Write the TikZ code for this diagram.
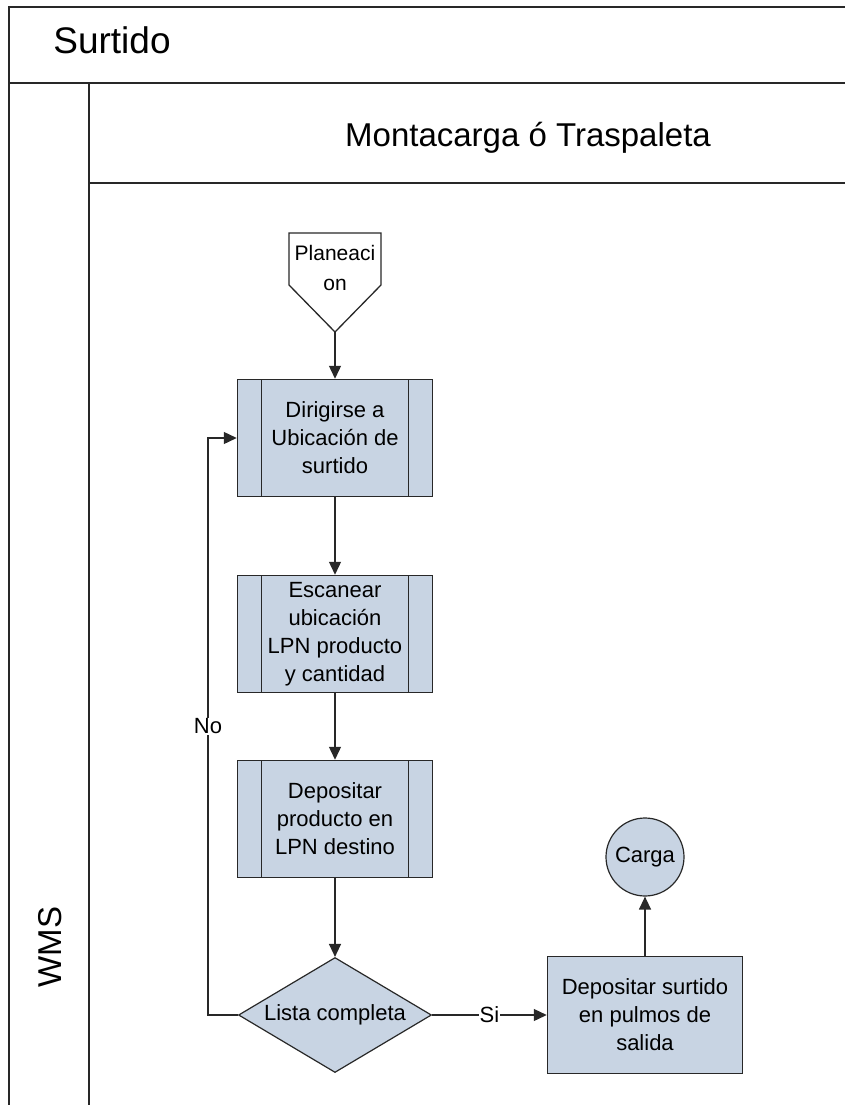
\documentclass[tikz,border=0pt]{standalone}
\usepackage{fontspec}
\setmainfont{Liberation Sans}
\usetikzlibrary{arrows.meta,shapes.geometric,positioning}
\definecolor{relleno}{RGB}{200,212,227}
\definecolor{borde}{RGB}{40,40,40}
\tikzset{
  carril/.style={line width=1.8pt,draw=borde},
  proceso/.style={draw=borde,line width=1.5pt,fill=relleno,minimum width=195pt,minimum height=117pt,inner sep=0pt,align=center,font=\fontsize{22}{28}\selectfont,
    path picture={\draw[borde,line width=1.5pt] ([xshift=24pt]path picture bounding box.north west) -- ([xshift=24pt]path picture bounding box.south west)
      ([xshift=-24pt]path picture bounding box.north east) -- ([xshift=-24pt]path picture bounding box.south east);}},
  caja/.style={draw=borde,line width=1.5pt,fill=relleno,minimum width=195pt,minimum height=117pt,align=center,font=\fontsize{22}{28}\selectfont},
  decision/.style={diamond,aspect=1.7,draw=borde,line width=1.2pt,fill=relleno,minimum width=193pt,minimum height=115pt,inner sep=0pt,font=\fontsize{22}{28}\selectfont},
  fin/.style={circle,draw=borde,line width=1.2pt,fill=relleno,minimum size=78pt,inner sep=0pt,font=\fontsize{22}{28}\selectfont},
  flecha/.style={draw=borde,line width=1.3pt,-{Triangle[length=13pt,width=12pt]}},
  etiqueta/.style={fill=white,inner sep=1pt,font=\fontsize{22}{26}\selectfont}
}

\begin{document}
\begin{tikzpicture}[x=1pt,y=-1pt]
    \useasboundingbox[fill=white] (0,0) rectangle (845,1105);

    \draw[carril] (845,7) -- (9,7) -- (9,1105);
    \draw[carril] (9,83) -- (845,83);
    \draw[carril] (89,83) -- (89,1105);
    \draw[carril] (89,183) -- (845,183);

    \node[font=\fontsize{37}{40}\selectfont] (surtido) at (112,40) {Surtido};
    \node[font=\fontsize{33}{36}\selectfont] (montacarga) at (528,138) {Montacarga ó Traspaleta};
    \node[rotate=90,font=\fontsize{33}{36}\selectfont] (wms) at (50,947) {WMS};

    \draw[borde,line width=1.3pt,fill=white] (289,233) -- (381,233) -- (381,285) -- (335,332) -- (289,285) -- cycle;
    \node[align=center,font=\fontsize{21}{30}\selectfont] (planeacion) at (335,268) {Planeaci\\on};
    \coordinate (punta) at (335,332);

    \foreach \n/\y/\t in {dirigir/438/{Dirigirse a\\Ubicación de\\surtido},
        escanear/634/{Escanear\\ubicación\\LPN producto\\y cantidad},
        depositar/819/{Depositar\\producto en\\LPN destino}} {
        \node[proceso] (\n) at (335,\y) {\t};
    }
    \node[decision] (lista) at (335,1015) {Lista completa};
    \node[caja] (salida) at (645,1015) {Depositar surtido\\en pulmos de\\salida};
    \node[fin] (carga) at (645,857) {Carga};

    \coordinate (vuelta) at (208,1015);
    \draw[flecha] (punta) -- (dirigir);
    \draw[flecha] (dirigir) -- (escanear);
    \draw[flecha] (escanear) -- (depositar);
    \draw[flecha] (depositar) -- (lista);
    \draw[flecha] (lista.west) -- (vuelta) |- node[pos=0.25,etiqueta] {No} (dirigir.west);
    \draw[flecha] (lista.east) -- node[midway,etiqueta] {Si} (salida.west);
    \draw[flecha] (salida) -- (carga);
\end{tikzpicture}
\end{document}
